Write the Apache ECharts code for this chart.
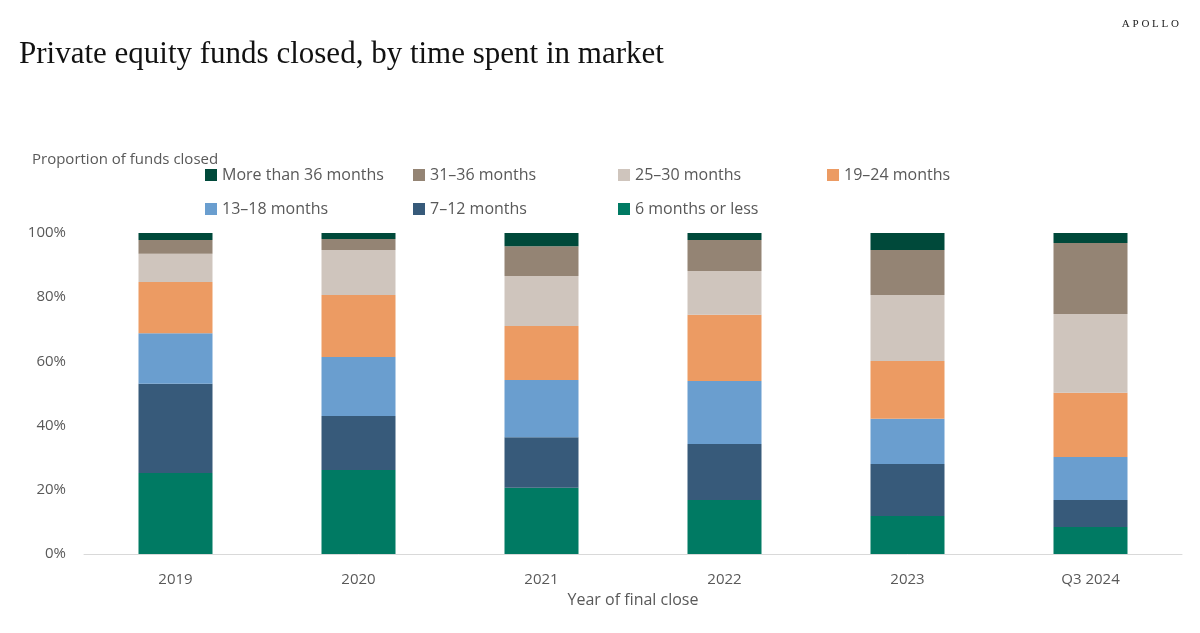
<!DOCTYPE html>
<html><head><meta charset="utf-8">
<script src="https://cdn.jsdelivr.net/npm/echarts@6/dist/echarts.min.js"></script>
<style>body{margin:0;background:#fff}#main{width:1200px;height:633px}</style>
</head><body><div id="main"></div>
<script>
var categories = ['2019', '2020', '2021', '2022', '2023', 'Q3 2024'];
var seriesNames = ['6 months or less', '7–12 months', '13–18 months', '19–24 months', '25–30 months', '31–36 months', 'More than 36 months'];
var colors = ['#007a63', '#375a7a', '#6a9ecf', '#ec9b63', '#cfc5bd', '#948474', '#00493a'];
var upTo6 = [25.2, 26.2, 20.6, 16.8, 11.8, 8.4];
var m7to12 = [27.8, 16.8, 15.8, 17.5, 16.2, 8.4];
var m13to18 = [15.8, 18.4, 17.8, 19.6, 14.1, 13.4];
var m19to24 = [15.9, 19.3, 16.8, 20.6, 18.0, 20.0];
var m25to30 = [8.8, 14.0, 15.6, 13.7, 20.6, 24.6];
var m31to36 = [4.3, 3.4, 9.3, 9.6, 14.0, 22.1];
var over36 = [2.2, 1.9, 4.1, 2.2, 5.3, 3.1];
var values = [upTo6, m7to12, m13to18, m19to24, m25to30, m31to36, over36];

// legend slots: [series index, left, top]
var legendSlots = [[6, 200, 162], [5, 408, 162], [4, 613, 162], [3, 822, 162],
                   [2, 200, 196], [1, 408, 196], [0, 613, 196]];

var chart = echarts.init(document.getElementById('main'));
var series = seriesNames.map(function (name, i) {
    return {
        name: name, type: 'bar', stack: 'all', barWidth: 74,
        itemStyle: { color: colors[i] }, data: values[i]
    };
});
var legends = legendSlots.map(function (s) {
    return {
        data: [seriesNames[s[0]]], left: s[1], top: s[2],
        icon: 'rect', itemWidth: 12, itemHeight: 12, itemGap: 6,
        textStyle: { color: '#595959', fontSize: 16, fontFamily: 'Open Sans' }
    };
});

chart.setOption({
    animation: false,
    title: [{
        text: 'Private equity funds closed, by time spent in market',
        left: 14, top: 34,
        textStyle: { fontFamily: 'Liberation Serif', fontWeight: 'normal', fontSize: 31, color: '#111' }
    }, {
        text: 'A P O L L O', right: 16, top: 14,
        textStyle: { fontFamily: 'Liberation Serif', fontWeight: 'normal', fontSize: 11, color: '#222' }
    }, {
        text: 'Proportion of funds closed', left: 27, top: 147,
        textStyle: { fontFamily: 'Open Sans', fontWeight: 'normal', fontSize: 15, color: '#595959' }
    }],
    legend: legends,
    grid: { left: 84, right: 18, top: 233, bottom: 79 },
    xAxis: {
        type: 'category', data: categories,
        name: 'Year of final close', nameLocation: 'middle', nameGap: 38,
        nameTextStyle: { color: '#595959', fontSize: 16, fontFamily: 'Open Sans' },
        axisTick: { show: false },
        axisLine: { lineStyle: { color: '#d9d9d9' } },
        axisLabel: { color: '#595959', fontSize: 15, margin: 18, fontFamily: 'Open Sans' }
    },
    yAxis: {
        type: 'value', min: 0, max: 100, interval: 20,
        splitLine: { show: false },
        axisLabel: { formatter: '{value}%', color: '#595959', fontSize: 15, margin: 18, fontFamily: 'Open Sans' }
    },
    series: series
});
</script>
</body></html>
